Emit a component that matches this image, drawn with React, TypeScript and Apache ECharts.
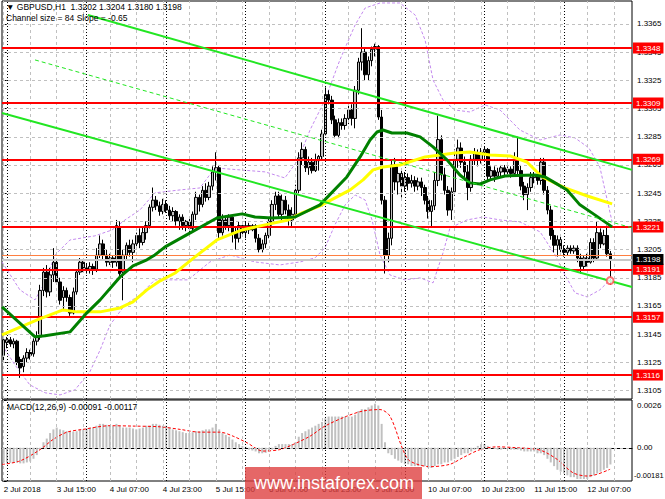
import React, { useEffect, useRef } from "react";
import * as echarts from "echarts";

const FONT = '"Liberation Sans", Arial, sans-serif';

// trading sessions shown: [day, first hour, last hour]
const tradingDays: [string, number, number][] = [
  ["2 Jul", 23, 23], ["3 Jul", 0, 23], ["4 Jul", 0, 23], ["5 Jul", 0, 23], ["6 Jul", 0, 23],
  ["9 Jul", 0, 23], ["10 Jul", 0, 23], ["11 Jul", 0, 23], ["12 Jul", 0, 14],
];
const rightShiftBars = 6;

// H1 candles: [open, close, low, high]
const candles: number[][] = [
  [1.3130,1.3141,1.3125,1.3144],[1.3139,1.3141,1.3135,1.3143],[1.3141,1.3138,1.3136,1.3143],[1.3138,1.3140,1.3135,1.3142],
  [1.3140,1.3125,1.3123,1.3141],[1.3127,1.3121,1.3114,1.3129],[1.3122,1.3128,1.3118,1.3130],[1.3128,1.3132,1.3125,1.3135],
  [1.3132,1.3130,1.3127,1.3134],[1.3131,1.3140,1.3129,1.3142],[1.3140,1.3143,1.3137,1.3147],[1.3143,1.3176,1.3141,1.3180],
  [1.3176,1.3189,1.3172,1.3192],[1.3189,1.3175,1.3171,1.3194],[1.3175,1.3187,1.3172,1.3192],[1.3187,1.3196,1.3182,1.3206],
  [1.3196,1.3182,1.3180,1.3199],[1.3182,1.3169,1.3166,1.3185],[1.3171,1.3176,1.3162,1.3179],[1.3176,1.3171,1.3168,1.3178],
  [1.3171,1.3160,1.3158,1.3173],[1.3160,1.3175,1.3159,1.3178],[1.3175,1.3189,1.3173,1.3191],[1.3189,1.3196,1.3187,1.3199],
  [1.3196,1.3192,1.3189,1.3197],[1.3192,1.3191,1.3188,1.3195],[1.3191,1.3193,1.3188,1.3196],[1.3193,1.3191,1.3187,1.3195],
  [1.3191,1.3201,1.3189,1.3206],[1.3201,1.3209,1.3199,1.3215],[1.3209,1.3201,1.3198,1.3212],[1.3201,1.3196,1.3193,1.3205],
  [1.3196,1.3199,1.3194,1.3202],[1.3199,1.3196,1.3192,1.3201],[1.3196,1.3222,1.3193,1.3226],[1.3221,1.3188,1.3185,1.3225],
  [1.3189,1.3201,1.3169,1.3205],[1.3201,1.3208,1.3198,1.3210],[1.3208,1.3203,1.3200,1.3212],[1.3203,1.3209,1.3196,1.3212],
  [1.3209,1.3215,1.3205,1.3217],[1.3215,1.3210,1.3206,1.3220],[1.3210,1.3217,1.3208,1.3221],[1.3217,1.3222,1.3212,1.3225],
  [1.3222,1.3235,1.3220,1.3237],[1.3235,1.3240,1.3232,1.3249],[1.3240,1.3236,1.3233,1.3243],[1.3236,1.3232,1.3229,1.3239],
  [1.3232,1.3237,1.3230,1.3241],[1.3237,1.3233,1.3231,1.3240],[1.3233,1.3229,1.3226,1.3236],[1.3229,1.3232,1.3225,1.3235],
  [1.3232,1.3225,1.3222,1.3233],[1.3225,1.3228,1.3219,1.3230],[1.3228,1.3222,1.3219,1.3230],[1.3222,1.3225,1.3218,1.3226],
  [1.3225,1.3220,1.3216,1.3227],[1.3220,1.3230,1.3218,1.3232],[1.3230,1.3242,1.3226,1.3246],[1.3242,1.3237,1.3232,1.3244],
  [1.3237,1.3247,1.3235,1.3250],[1.3247,1.3242,1.3239,1.3252],[1.3242,1.3250,1.3240,1.3253],[1.3250,1.3260,1.3247,1.3264],
  [1.3260,1.3263,1.3254,1.3274],[1.3263,1.3217,1.3212,1.3265],[1.3217,1.3226,1.3215,1.3230],[1.3226,1.3222,1.3219,1.3229],
  [1.3222,1.3228,1.3218,1.3230],[1.3228,1.3217,1.3210,1.3229],[1.3217,1.3213,1.3205,1.3221],[1.3213,1.3222,1.3210,1.3225],
  [1.3222,1.3217,1.3215,1.3225],[1.3217,1.3222,1.3213,1.3225],[1.3222,1.3219,1.3216,1.3224],[1.3219,1.3222,1.3218,1.3223],
  [1.3222,1.3213,1.3210,1.3223],[1.3213,1.3205,1.3203,1.3216],[1.3205,1.3209,1.3203,1.3212],[1.3209,1.3215,1.3206,1.3217],
  [1.3215,1.3225,1.3213,1.3228],[1.3225,1.3237,1.3222,1.3240],[1.3237,1.3243,1.3233,1.3246],[1.3243,1.3230,1.3227,1.3246],
  [1.3230,1.3240,1.3226,1.3244],[1.3240,1.3233,1.3230,1.3243],[1.3233,1.3226,1.3222,1.3237],[1.3226,1.3230,1.3221,1.3235],
  [1.3230,1.3247,1.3227,1.3251],[1.3247,1.3270,1.3244,1.3274],[1.3270,1.3276,1.3265,1.3281],[1.3276,1.3263,1.3260,1.3278],
  [1.3263,1.3267,1.3258,1.3271],[1.3267,1.3261,1.3259,1.3270],[1.3261,1.3268,1.3260,1.3273],[1.3268,1.3271,1.3261,1.3272],
  [1.3271,1.3287,1.3269,1.3290],[1.3287,1.3315,1.3286,1.3320],[1.3315,1.3311,1.3308,1.3318],[1.3311,1.3297,1.3294,1.3314],
  [1.3297,1.3286,1.3284,1.3300],[1.3286,1.3295,1.3284,1.3298],[1.3295,1.3293,1.3290,1.3298],[1.3293,1.3298,1.3290,1.3301],
  [1.3298,1.3304,1.3294,1.3307],[1.3304,1.3298,1.3293,1.3308],[1.3298,1.3318,1.3291,1.3321],[1.3318,1.3338,1.3315,1.3341],
  [1.3338,1.3345,1.3332,1.3362],[1.3345,1.3329,1.3325,1.3348],[1.3329,1.3339,1.3325,1.3342],[1.3339,1.3347,1.3335,1.3349],
  [1.3347,1.3349,1.3342,1.3351],[1.3349,1.3299,1.3297,1.3350],[1.3299,1.3240,1.3237,1.3304],[1.3240,1.3201,1.3188,1.3243],
  [1.3201,1.3213,1.3196,1.3217],[1.3213,1.3265,1.3208,1.3269],[1.3265,1.3253,1.3247,1.3270],[1.3253,1.3259,1.3244,1.3264],
  [1.3259,1.3250,1.3242,1.3261],[1.3250,1.3256,1.3246,1.3260],[1.3256,1.3252,1.3247,1.3259],[1.3252,1.3254,1.3249,1.3258],
  [1.3254,1.3250,1.3246,1.3257],[1.3250,1.3253,1.3247,1.3256],[1.3253,1.3249,1.3243,1.3256],[1.3249,1.3240,1.3237,1.3251],
  [1.3240,1.3232,1.3227,1.3243],[1.3232,1.3236,1.3221,1.3240],[1.3236,1.3254,1.3233,1.3260],[1.3254,1.3283,1.3250,1.3300],
  [1.3283,1.3258,1.3254,1.3286],[1.3258,1.3247,1.3244,1.3263],[1.3247,1.3233,1.3229,1.3250],[1.3233,1.3246,1.3226,1.3249],
  [1.3246,1.3269,1.3243,1.3276],[1.3269,1.3277,1.3263,1.3283],[1.3277,1.3267,1.3263,1.3281],[1.3267,1.3260,1.3254,1.3271],
  [1.3260,1.3249,1.3240,1.3265],[1.3249,1.3269,1.3246,1.3272],[1.3269,1.3273,1.3265,1.3277],[1.3273,1.3269,1.3264,1.3276],
  [1.3269,1.3274,1.3266,1.3277],[1.3274,1.3276,1.3270,1.3278],[1.3276,1.3257,1.3254,1.3277],[1.3257,1.3261,1.3254,1.3264],
  [1.3261,1.3257,1.3253,1.3264],[1.3257,1.3260,1.3256,1.3263],[1.3260,1.3263,1.3257,1.3265],[1.3263,1.3260,1.3257,1.3265],
  [1.3260,1.3262,1.3258,1.3264],[1.3262,1.3259,1.3256,1.3264],[1.3259,1.3269,1.3257,1.3274],[1.3269,1.3261,1.3258,1.3285],
  [1.3261,1.3250,1.3247,1.3265],[1.3250,1.3244,1.3240,1.3253],[1.3244,1.3249,1.3233,1.3252],[1.3249,1.3256,1.3246,1.3260],
  [1.3256,1.3257,1.3252,1.3260],[1.3257,1.3254,1.3251,1.3260],[1.3254,1.3267,1.3251,1.3270],[1.3267,1.3247,1.3244,1.3270],
  [1.3247,1.3233,1.3230,1.3250],[1.3233,1.3215,1.3212,1.3236],[1.3215,1.3208,1.3203,1.3219],[1.3208,1.3212,1.3200,1.3215],
  [1.3212,1.3205,1.3201,1.3215],[1.3205,1.3203,1.3200,1.3208],[1.3203,1.3206,1.3201,1.3208],[1.3206,1.3204,1.3202,1.3208],
  [1.3204,1.3206,1.3202,1.3208],[1.3206,1.3199,1.3196,1.3208],[1.3199,1.3193,1.3188,1.3202],[1.3193,1.3199,1.3190,1.3201],
  [1.3199,1.3196,1.3193,1.3202],[1.3196,1.3210,1.3195,1.3213],[1.3210,1.3199,1.3196,1.3213],[1.3199,1.3217,1.3198,1.3225],
  [1.3217,1.3209,1.3206,1.3220],[1.3209,1.3215,1.3208,1.3219],[1.3215,1.3202,1.3200,1.3222],[1.3202,1.3198,1.3180,1.3204],
];

// MACD main (histogram) per bar
const macdHist: number[] = [
  -0.0008,-0.0008,-0.00082,-0.00082,-0.0008,-0.00085,-0.00085,-0.0008,-0.00075,
  -0.0006,-0.0004,-0.0001,0.0003,0.0005,0.0008,0.001,0.0011,0.001,0.00095,0.0009,0.0009,0.00088,0.0009,0.001,0.001,
  0.00105,0.0011,0.0011,0.0012,0.0013,0.0013,0.00125,0.0012,0.00118,0.0013,0.0012,0.0011,0.0011,0.0011,0.00105,0.001,0.00105,0.0011,0.0012,0.0012,0.0013,0.0013,0.00125,0.0012,
  0.0012,0.0011,0.001,0.00095,0.0009,0.00085,0.0008,0.0008,0.00085,0.0009,0.0009,0.00095,0.001,0.001,0.0011,0.0013,0.001,0.0008,0.0007,0.0006,0.00045,0.0003,0.0002,0.0001,
  0.00005,-0.0001,-0.00015,-0.0002,-0.0003,-0.0003,-0.00028,-0.0002,-0.0001,0.0001,0.0002,0.0002,0.0002,0.0002,0.0002,0.0003,0.0006,0.0008,0.0009,0.001,0.0011,0.0012,0.0013,0.0014,
  0.0016,0.0017,0.0017,0.0017,0.0017,0.0017,0.0017,0.0017,0.0017,0.0018,0.002,0.0021,0.0021,0.0022,0.0023,0.0024,0.0023,0.0013,0.0003,-0.0003,-0.0004,-0.0006,-0.0007,-0.0008,
  -0.0009,-0.0009,-0.001,-0.001,-0.001,-0.001,-0.001,-0.0011,-0.0011,-0.001,-0.0009,-0.0009,-0.0008,-0.0008,-0.0007,-0.0006,-0.0005,-0.0004,-0.0003,-0.0003,-0.0002,-0.0001,0.0001,0.0002,
  0.0002,0.0001,0,-0.00005,-0.0001,-0.0001,-0.00005,0,-0.0001,-0.0001,-0.0001,-0.00015,-0.0002,-0.0002,-0.0002,-0.0002,-0.0003,-0.0003,-0.0004,-0.0006,-0.0008,-0.001,-0.0012,-0.0013,
  -0.0014,-0.0015,-0.0016,-0.0016,-0.0017,-0.0017,-0.0017,-0.0017,-0.0016,-0.0015,-0.0014,-0.0013,-0.0012,-0.0011,-0.00091,
];

// MACD signal line read at [bar, value]
const macdSignal: number[][] = [
  [-0.5,-0.00091],[4.9,-0.00072],[11,-0.0001],[14.9,0.00045],[19.1,0.00085],[23.9,0.001],[32.1,0.0012],[39,0.00118],
  [47.2,0.00114],[53.2,0.001],[59.2,0.00085],[65.2,0.00085],[69.2,0.00063],[73.4,0.00027],[78.2,-0.00018],[83.3,-0.0001],
  [87.3,0.00018],[92.4,0.00063],[96.9,0.00118],[103.5,0.00172],[108.4,0.002],[113.5,0.00208],[116.5,0.00172],[120.4,-0.0001],
  [122.5,-0.00072],[128.6,-0.00103],[134.6,-0.0009],[138.5,-0.00054],[143.7,-0.0001],[148.8,0.00005],[154.8,0],[161.8,-0.00013],
  [166.9,-0.00063],[171.7,-0.00136],[176,-0.00154],[178.9,-0.00145],[182.9,-0.00117],
];

// moving averages read at [bar, price]
const maGreen: number[][] = [
  [-0.5,1.31643],[9.45,1.31431],[12.5,1.31438],[20,1.31466],[25.1,1.31601],[29.1,1.31693],[35.1,1.31856],[39,1.31934],
  [43.2,1.31977],[45.6,1.32012],[48.7,1.32069],[56.8,1.32175],[64.3,1.32274],[71.9,1.32303],[75.8,1.32281],[80.9,1.32274],
  [87.9,1.32281],[95.4,1.32367],[103.5,1.32565],[107.5,1.32707],[110.5,1.32827],[112.6,1.32884],[114.4,1.32898],[117.1,1.32877],
  [121.6,1.32877],[125.6,1.32849],[129.5,1.32778],[133.7,1.32686],[137.6,1.32579],[140.6,1.32523],[143.7,1.32515],[146.7,1.32544],
  [151.2,1.32572],[160.2,1.32579],[163.3,1.32565],[166.3,1.32523],[169.9,1.32473],[173.8,1.32367],[178.3,1.32296],[183.5,1.32211],
];
const maYellow: number[][] = [
  [-0.5,1.31445],[10.1,1.31551],[17.9,1.31622],[22.1,1.31608],[29.1,1.31608],[35.1,1.31636],[39,1.31679],[43.2,1.31764],
  [47.2,1.31828],[51.7,1.31884],[57.7,1.31998],[64.3,1.32118],[71.9,1.32189],[78.8,1.32225],[85.8,1.3226],[90,1.3231],
  [95.4,1.3236],[104.5,1.32473],[108.4,1.32544],[111.4,1.32615],[114.4,1.32636],[119.5,1.3265],[127.1,1.32707],[136.1,1.32735],
  [140.6,1.32742],[146.7,1.32721],[152.7,1.32714],[157.8,1.32671],[162.4,1.32565],[169.3,1.32487],[176,1.3243],[183.5,1.32374],
];

// envelope bands read at [bar, price]
const bandUpper: number[][] = [
  [-0.5,1.31962],[4.9,1.31764],[9.45,1.31693],[12.5,1.31821],[15.5,1.32012],[20,1.32118],[27.5,1.32147],[32.7,1.32189],
  [36.6,1.3226],[41.1,1.32331],[45.6,1.32452],[53.2,1.32473],[59.2,1.32487],[63.7,1.32629],[71.3,1.32615],[78.8,1.32601],
  [84.8,1.32558],[88.8,1.32686],[92.4,1.32898],[96.9,1.33111],[101.4,1.33395],[106,1.33643],[109,1.33763],[113.5,1.33799],
  [119.5,1.33799],[124.1,1.33714],[127.1,1.33536],[129.5,1.33253],[132.5,1.33111],[136.1,1.3304],[140.6,1.33026],[145.2,1.33076],
  [149.7,1.3304],[155.7,1.32898],[161.8,1.32827],[167.8,1.32863],[172.3,1.32842],[176.5,1.32771],[179.8,1.32636],[183.5,1.32246],
];
const bandLower: number[][] = [
  [-0.5,1.31374],[3.4,1.31232],[7.9,1.3109],[12.5,1.31034],[17,1.31019],[21.5,1.31055],[26,1.31183],[29.1,1.31338],
  [32.1,1.31516],[36.6,1.31658],[41.1,1.31728],[45.6,1.31835],[55.6,1.31835],[62.2,1.31962],[68.3,1.32012],[75.8,1.31962],
  [83.3,1.31941],[89.4,1.31962],[93.9,1.31991],[96.9,1.32062],[99.9,1.32225],[103,1.32367],[106,1.32437],[109,1.32402],
  [111.1,1.3226],[113.5,1.32012],[116.5,1.3187],[121,1.31835],[125.6,1.31849],[129.5,1.31814],[132.5,1.32026],[134.6,1.32203],
  [139.7,1.3226],[144.6,1.32281],[149.7,1.3226],[155.7,1.32246],[161.8,1.32175],[166.3,1.32012],[169.3,1.3187],[172.3,1.31743],
  [176,1.31714],[179.8,1.31764],[183.5,1.31849],
];

// channel trend lines [bar, price]
const channelUpper: number[][] = [[25.4, 1.33714], [189.5, 1.32615]];
const channelMid: number[][] = [[9.45, 1.33395], [189.5, 1.32204]];
const channelLower: number[][] = [[-0.5, 1.33019], [189.5, 1.31785]];

const levels: number[] = [1.3348, 1.3309, 1.3269, 1.3221, 1.3191, 1.3157, 1.3116];
const bidPrice = 1.3198;
const openLine = 1.3201;
const alertPoint: number[] = [182.9, 1.3183];
const priceTicks: number[] = [1.3105,1.3125,1.3145,1.3165,1.3185,1.3205,1.3225,1.3245,1.3265,1.3285,1.3305,1.3325,1.3345,1.3365];
const macdTicks: number[] = [-0.00181, 0, 0.0026];

export default function App() {
  const ref = useRef<HTMLDivElement>(null);
  useEffect(() => {
    const chart = echarts.init(ref.current!, null, { renderer: "svg" });

    const cats: string[] = [];
    const labels: string[] = [];
    tradingDays.forEach(([d, h0, h1]) => {
      for (let h = h0; h <= h1; h++) {
        cats.push(d + " " + String(h).padStart(2, "0") + ":00");
        labels.push(cats.length === 1 ? "2 Jul 2018" : d + " " + String(h).padStart(2, "0") + ":00");
      }
    });
    const nBars = cats.length;
    for (let k = 0; k < rightShiftBars; k++) { cats.push(""); labels.push(""); }
    const N = cats.length;

    const lightV: number[] = [];
    for (let v = 0; v < N; v += 8) lightV.push(v);
    const darkV: number[] = [];
    for (let v = 1; v < N; v += 24) darkV.push(v);

    const gridLight = { color: "#c0c0c0", type: [3, 3], width: 1 };
    const gridDark = { color: "#000000", type: [1, 2], width: 1 };

    const vLines = [
      ...lightV.map((v) => ({ xAxis: v, lineStyle: gridLight })),
      ...darkV.map((v) => ({ xAxis: v, lineStyle: gridDark })),
    ];

    const labelIdx = (i: number) => i % 16 === 0 && i < nBars;
    const yMin = 1.3099, yMax = 1.33813;

    const lineS = (data: number[][], style: any, z: number, extra: any = {}) => ({
      type: "line", xAxisIndex: 1, yAxisIndex: 0, data, showSymbol: false, symbol: "none",
      silent: true, lineStyle: style, z, animation: false, ...extra,
    });

    const markBase = { silent: true, symbol: ["none", "none"], label: { show: false }, animation: false, precision: 8 };

    const option: any = {
      animation: false,
      backgroundColor: "#ffffff",
      textStyle: { fontFamily: FONT },
      grid: [
        { left: 2, top: 1, width: 630, height: 398, show: true, borderColor: "#000", borderWidth: 1, backgroundColor: "transparent", containLabel: false, outerBoundsMode: "none" },
        { left: 2, top: 400, width: 630, height: 81, show: true, borderColor: "#000", borderWidth: 1, backgroundColor: "transparent", containLabel: false, outerBoundsMode: "none" },
      ],
      xAxis: [
        { type: "category", gridIndex: 0, data: cats, boundaryGap: true, axisLine: { show: false }, axisTick: { show: false }, axisLabel: { show: false }, splitLine: { show: false } },
        { type: "value", gridIndex: 0, min: -0.5, max: N - 0.5, show: false },
        {
          type: "category", gridIndex: 1, data: labels, boundaryGap: true,
          axisLine: { show: true, lineStyle: { color: "#000" } },
          axisTick: { show: true, interval: labelIdx, alignWithLabel: true, length: 3, lineStyle: { color: "#000" } },
          axisLabel: { interval: labelIdx, align: "left", fontSize: 8, color: "#000", margin: 4, fontFamily: FONT },
          splitLine: { show: false },
        },
        { type: "value", gridIndex: 1, min: -0.5, max: N - 0.5, show: false },
      ],
      yAxis: [
        {
          type: "value", gridIndex: 0, position: "right", min: yMin, max: yMax,
          axisLine: { show: false },
          axisTick: { show: true, customValues: priceTicks, length: 3, lineStyle: { color: "#000" } },
          axisLabel: { customValues: priceTicks, formatter: (v: number) => v.toFixed(4), fontSize: 8, color: "#000", margin: 5, fontFamily: FONT },
          splitLine: { show: false },
        },
        {
          type: "value", gridIndex: 0, position: "right", min: yMin, max: yMax,
          axisLine: { show: false }, axisTick: { show: false }, splitLine: { show: false },
          axisLabel: {
            customValues: [...levels, bidPrice], margin: 1,
            formatter: (v: number) => (Math.abs(v - bidPrice) < 1e-7 ? "{b|" + v.toFixed(4) + "}" : "{r|" + v.toFixed(4) + "}"),
            rich: {
              r: { backgroundColor: "#ff0000", color: "#ffffff", fontSize: 8, padding: [2, 3, 1, 3], fontFamily: FONT },
              b: { backgroundColor: "#000000", color: "#ffffff", fontSize: 8, padding: [2, 3, 1, 3], fontFamily: FONT },
            },
          },
        },
        {
          type: "value", gridIndex: 1, position: "right", min: -0.00181, max: 0.0026,
          axisLine: { show: false }, splitLine: { show: false },
          axisTick: { show: true, customValues: macdTicks, length: 3, lineStyle: { color: "#000" } },
          axisLabel: {
            customValues: macdTicks, margin: 2,
            formatter: (v: number) => (v > 0.001 ? "{t|0.0026}" : v < -0.001 ? "{m|-0.00181}" : "{z|0.00}"),
            rich: {
              t: { fontSize: 8, color: "#000", padding: [10, 0, 0, 3], fontFamily: FONT },
              m: { fontSize: 7.5, color: "#000", padding: [0, 0, 12, 0], fontFamily: FONT },
              z: { fontSize: 8, color: "#000", padding: [0, 0, 0, 3], fontFamily: FONT },
            },
          },
        },
      ],
      series: [
        // main grid lines
        {
          type: "line", xAxisIndex: 1, yAxisIndex: 0, data: [[-0.5, 1.32]], showSymbol: false, symbol: "none",
          lineStyle: { opacity: 0 }, silent: true, z: 1,
          markLine: { ...markBase, data: [...priceTicks.map((p) => ({ yAxis: p, lineStyle: gridLight })), ...vLines] },
        },
        // macd grid lines
        {
          type: "line", xAxisIndex: 3, yAxisIndex: 2, data: [[-0.5, 0]], showSymbol: false, symbol: "none",
          lineStyle: { opacity: 0 }, silent: true, z: 1,
          markLine: { ...markBase, data: [{ yAxis: 0, lineStyle: gridLight }, ...vLines] },
        },
        // bid / open lines
        {
          type: "line", xAxisIndex: 1, yAxisIndex: 0, data: [[-0.5, 1.32]], showSymbol: false, symbol: "none",
          lineStyle: { opacity: 0 }, silent: true, z: 2,
          markLine: {
            ...markBase,
            data: [
              { yAxis: bidPrice, lineStyle: { color: "#c8c8c8", width: 2, type: "solid" } },
              { yAxis: openLine, lineStyle: { color: "#ff7f40", width: 1, type: "solid" } },
            ],
          },
        },
        lineS(bandUpper, { color: "#c389ee", width: 1, type: [3, 2] }, 3),
        lineS(bandLower, { color: "#c389ee", width: 1, type: [3, 2] }, 3),
        {
          type: "candlestick", xAxisIndex: 0, yAxisIndex: 0, data: candles, barWidth: 3, z: 4, silent: true,
          itemStyle: { color: "#c0c0c0", color0: "#000000", borderColor: "#000000", borderColor0: "#000000", borderWidth: 1 },
        },
        lineS(maYellow, { color: "#ffff00", width: 3 }, 5),
        lineS(maGreen, { color: "#008000", width: 3 }, 6),
        lineS(channelUpper, { color: "#22e622", width: 2 }, 7),
        lineS(channelLower, { color: "#22e622", width: 2 }, 7),
        lineS(channelMid, { color: "#22e622", width: 1, type: [4, 3] }, 7),
        // support / resistance levels
        {
          type: "line", xAxisIndex: 1, yAxisIndex: 0, data: [[-0.5, 1.32]], showSymbol: false, symbol: "none",
          lineStyle: { opacity: 0 }, silent: true, z: 8,
          markLine: {
            ...markBase,
            lineStyle: { color: "#ff0000", width: 2, type: "solid" },
            data: levels.map((l) => ({ yAxis: l })),
          },
        },
        {
          type: "scatter", xAxisIndex: 1, yAxisIndex: 0, data: [alertPoint], symbol: "emptyCircle", symbolSize: 7,
          itemStyle: { color: "#ff5050", borderColor: "#ff5050", borderWidth: 1 }, silent: true, z: 9,
        },
        // MACD
        {
          type: "bar", xAxisIndex: 2, yAxisIndex: 2, data: macdHist, barWidth: 2, silent: true, z: 3,
          itemStyle: { color: "#c0c0c0" },
        },
        {
          type: "line", xAxisIndex: 3, yAxisIndex: 2, data: macdSignal, showSymbol: false, symbol: "none", smooth: 0.3,
          silent: true, z: 4, lineStyle: { color: "#ff0000", width: 1, type: [3, 2] },
        },
      ],
      graphic: [
        { type: "text", left: 6, top: 2, z: 100, style: { text: "▼ GBPUSD,H1  1.3202 1.3204 1.3180 1.3198", font: "8.5px " + FONT, fill: "#000" } },
        { type: "text", left: 6, top: 13, z: 100, style: { text: "Channel size = 84 Slope = -0.65", font: "8.5px " + FONT, fill: "#000" } },
        { type: "text", left: 7, top: 402, z: 100, style: { text: "MACD(12,26,9) -0.00091 -0.00117", font: "8.5px " + FONT, fill: "#000" } },
        { type: "rect", shape: { x: 245, y: 467, width: 177, height: 40 }, z: 100, style: { fill: "rgba(222,60,60,0.78)" } },
        { type: "text", left: 254, top: 474, z: 101, style: { text: "www.instaforex.com", font: "18px " + FONT, fill: "#ffffff" } },
      ],
    };

    chart.setOption(option);
    return () => chart.dispose();
  }, []);

  return <div ref={ref} style={{ position: "absolute", left: 0, top: 0, width: 665, height: 499 }} />;
}
